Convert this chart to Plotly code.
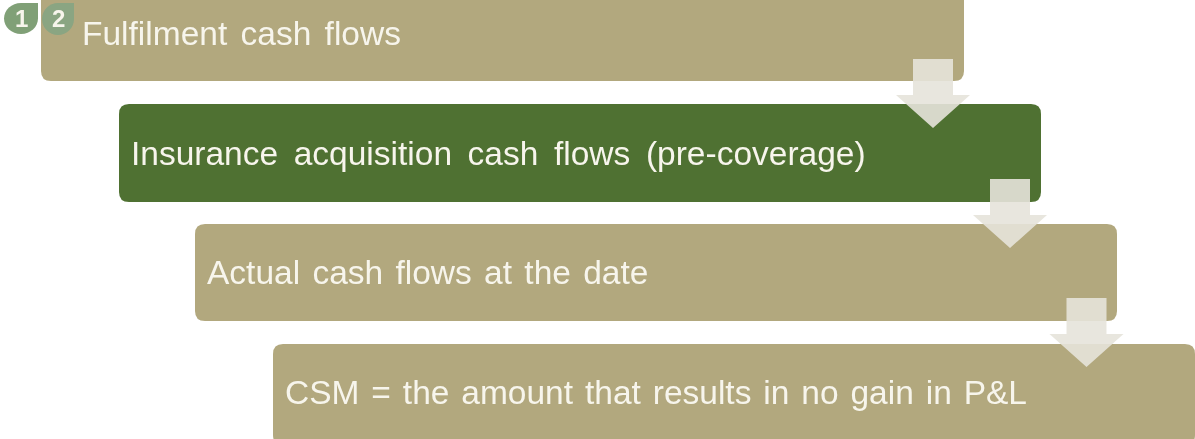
import plotly.graph_objects as go

# Content
box_labels = ["Fulfilment cash flows", "Insurance acquisition cash flows (pre-coverage)",
              "Actual cash flows at the date", "CSM = the amount that results in no gain in P&L"]
badge_labels = ["1", "2"]

# Geometry and style
W, H = 1195, 439
box_left = [41, 119, 195, 273]
box_right = [964, 1041, 1117, 1195]
box_top = [-20, 104, 224, 344]
box_bottom = [81, 202, 321, 445]
box_fill = ["#b2a87e", "#4f7132", "#b2a87e", "#b2a87e"]
text_x = [80, 129, 205, 283]
text_y = [33, 153, 272, 392]
word_gap = [4, 6.3, 3, 2.6]
arrow_cx = [933, 1010, 1086.5]
arrow_top = [59, 179, 298]
ARROW_FILL = "rgba(229,227,218,0.9)"


def round_rect(x0, y0, x1, y1, r=10):
    return (f"M{x0+r},{y0} L{x1-r},{y0} Q{x1},{y0} {x1},{y0+r} L{x1},{y1-r} Q{x1},{y1} {x1-r},{y1} "
            f"L{x0+r},{y1} Q{x0},{y1} {x0},{y1-r} L{x0},{y0+r} Q{x0},{y0} {x0+r},{y0} Z")


def arrow(cx, top):
    return (f"M{cx-20},{top} L{cx+20},{top} L{cx+20},{top+36} L{cx+37},{top+36} L{cx},{top+69} "
            f"L{cx-37},{top+36} L{cx-20},{top+36} Z")


def drop(x0, y0, x1, y1):
    r = (x1 - x0) / 2
    ry = (y1 - y0) / 2
    return (f"M{x0+r},{y0} L{x1},{y0} L{x1},{y0+ry} C{x1},{y0+ry*1.55} {x0+r*1.55},{y1} {x0+r},{y1} "
            f"C{x0+r*0.45},{y1} {x0},{y0+ry*1.55} {x0},{y0+ry} C{x0},{y0+ry*0.45} {x0+r*0.45},{y0} {x0+r},{y0} Z")


shapes = []
for i in range(4):
    shapes.append(dict(type="path", path=round_rect(box_left[i], box_top[i], box_right[i], box_bottom[i]),
                       fillcolor=box_fill[i], line_width=0, layer="above"))
for cx, top in zip(arrow_cx, arrow_top):
    shapes.append(dict(type="path", path=arrow(cx, top), fillcolor=ARROW_FILL, line_width=0, layer="above"))
shapes.append(dict(type="path", path=drop(4, 3, 38, 34), fillcolor="#80a077", line_width=0, layer="above"))
shapes.append(dict(type="path", path=drop(42, 3, 74, 35), fillcolor="#8aa582", line_width=0, layer="above"))

annotations = []
for label, x, y in zip(box_labels, text_x, text_y):
    annotations.append(dict(x=x, y=y, text=label.replace("&", "&amp;"), showarrow=False, xanchor="left",
                            yanchor="middle", align="left",
                            font=dict(family="Liberation Sans", size=33.5, color="#f7f5ec")))
for label, x in zip(badge_labels, [21, 58]):
    annotations.append(dict(x=x, y=18, text=f"<b>{label}</b>", showarrow=False, xanchor="center", yanchor="middle",
                            font=dict(family="Liberation Sans", size=24, color="#f7f5ec")))

fig = go.Figure()
fig.update_layout(width=W, height=H, margin=dict(l=0, r=0, t=0, b=0), paper_bgcolor="white",
                  plot_bgcolor="white", shapes=shapes, annotations=annotations, showlegend=False,
                  xaxis=dict(range=[0, W], visible=False, fixedrange=True),
                  yaxis=dict(range=[H, 0], visible=False, fixedrange=True))
post = """
document.body.style.margin = '0';
document.body.style.overflow = 'hidden';
var gaps = %s;
var texts = document.querySelectorAll('.annotation-text');
gaps.forEach(function (g, i) { if (texts[i]) texts[i].style.wordSpacing = g + 'px'; });
document.querySelector('.plot-container').style.filter = 'blur(0.5px)';
""" % word_gap
fig.write_html("out.html", config=dict(displayModeBar=False), post_script=post)
